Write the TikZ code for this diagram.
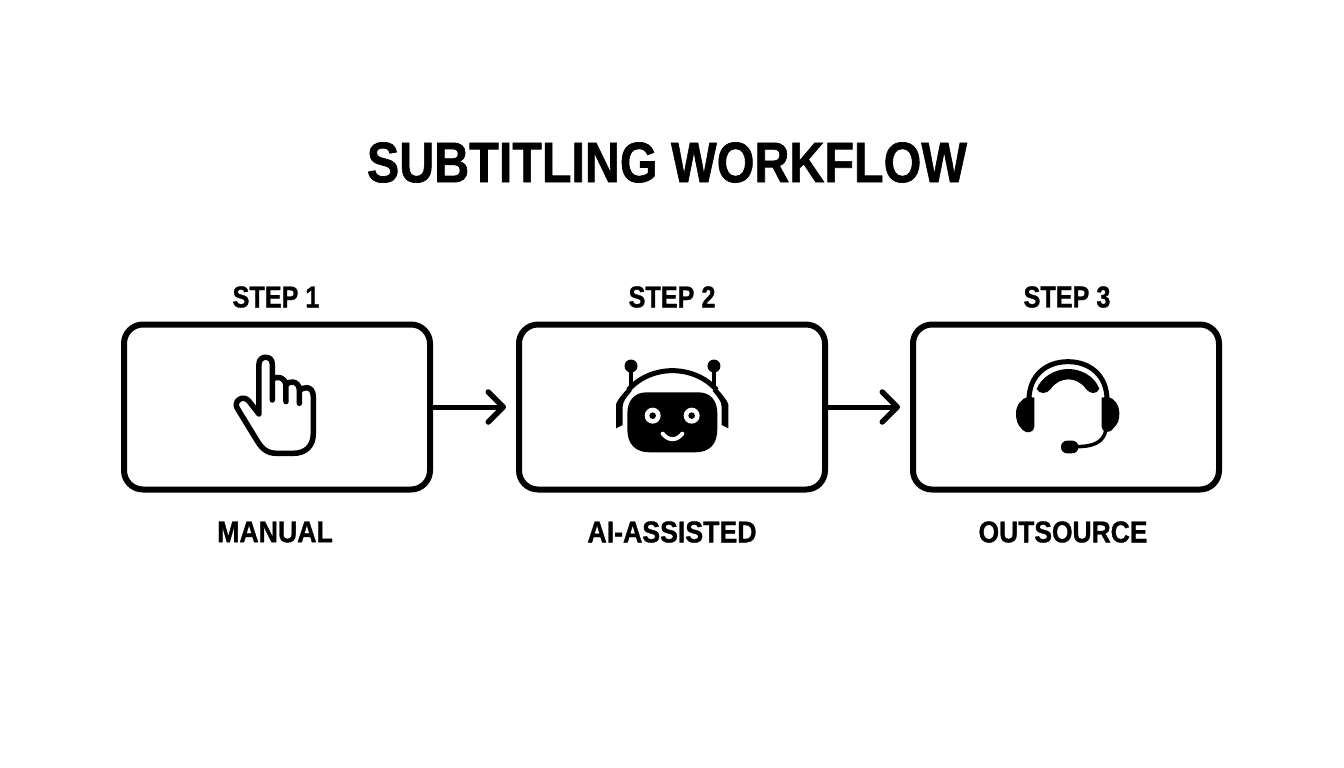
\documentclass[tikz,border=0pt]{standalone}
\usepackage{fontspec}
\newfontfamily\heavy{Liberation Sans Bold}[FakeBold=1.2]
\usetikzlibrary{arrows.meta}
\begin{document}
\begin{tikzpicture}[x=1pt,y=-1pt,
  stepbox/.style={draw=black,line width=6pt,rounded corners=19pt,minimum width=306pt,minimum height=165pt,inner sep=0pt,fill=white},
  titletext/.style={font=\heavy\fontsize{57pt}{60pt}\selectfont,xscale=.85,transform shape,inner sep=0pt,text=black},
  steptext/.style={font=\heavy\fontsize{30pt}{34pt}\selectfont,xscale=.84,transform shape,inner sep=0pt,text=black},
  labeltext/.style={font=\heavy\fontsize{30pt}{34pt}\selectfont,xscale=.89,transform shape,inner sep=0pt,text=black},
  flow/.style={line width=5pt,-{Straight Barb[length=15pt,width=30pt,round,line width=5.5pt]}}]
\useasboundingbox (0,0) rectangle (1344,768);
\fill[white] (0,0) rectangle (1344,768);
\node[titletext] (title) at (667,162.5) {SUBTITLING WORKFLOW};
\node[stepbox] (b1) at (277,407) {};
\node[stepbox] (b2) at (672,407) {};
\node[stepbox] (b3) at (1066,407) {};
\node[steptext] (s1) at (276,297) {STEP 1};
\node[steptext] (s2) at (672,297) {STEP 2};
\node[steptext] (s3) at (1067,297) {STEP 3};
\node[labeltext] (l1) at (275,532) {MANUAL};
\node[labeltext] (l2) at (672,532) {AI-ASSISTED};
\node[labeltext,xscale=.99] (l3) at (1063,532) {OUTSOURCE};
\coordinate (t1) at (506,407);
\coordinate (t2) at (900,407);
\draw[flow] (b1.east) -- (t1);
\draw[flow] (b2.east) -- (t2);
% hand
\begin{scope}[xshift=210pt,yshift=-340pt,x=.3333pt,y=-.3333pt]
\draw[line width=5.5pt,line cap=round,line join=round]
 (147,222) -- (147,72) .. controls (147,45) and (187,45) .. (187,72) -- (187,180)
 (187,118) .. controls (195,108) and (228,108) .. (228,140) -- (228,185)
 (228,135) .. controls (235,120) and (268,122) .. (268,150) -- (268,190)
 (268,155) .. controls (275,138) and (310,135) .. (310,170) -- (310,280)
 .. controls (310,320) and (285,340) .. (250,340) -- (200,340)
 .. controls (170,340) and (155,325) .. (140,300) -- (82,205)
 .. controls (68,185) and (100,160) .. (118,185) -- (147,222);
\end{scope}
% robot
\begin{scope}[xshift=600pt,yshift=-345pt,x=.3333pt,y=-.3333pt]
\fill (82,205) .. controls (82,165) and (105,142) .. (140,142) -- (295,142)
 .. controls (330,142) and (352,165) .. (352,205) -- (352,252)
 .. controls (352,297) and (330,322) .. (285,322) -- (150,322)
 .. controls (105,322) and (82,297) .. (82,252) -- cycle;
\fill[white] (158,212) circle[radius=8pt];
\fill (158,212) circle[radius=3.3pt];
\fill[white] (275,212) circle[radius=8pt];
\fill (275,212) circle[radius=3.3pt];
\draw[white,line width=4pt,line cap=round] (188,266) .. controls (205,288) and (230,288) .. (247,266);
\draw[line width=5pt] (85,135) .. controls (120,95) and (170,77) .. (217,77) .. controls (265,77) and (315,95) .. (350,135);
\fill (48,178) .. controls (52,165) and (65,150) .. (85,128) -- (95,138) .. controls (80,155) and (68,170) .. (68,185)
 -- (68,240) -- (48,250) -- cycle;
\fill (385,178) .. controls (381,165) and (368,150) .. (348,128) -- (338,138) .. controls (353,155) and (365,170) .. (365,185)
 -- (365,240) -- (385,250) -- cycle;
\fill (93,63) circle[radius=6.5pt];
\fill (342,63) circle[radius=6.5pt];
\draw[line width=4.5pt] (93,63) -- (93,128);
\draw[line width=4.5pt] (342,63) -- (342,128);
\end{scope}
% headset
\begin{scope}[xshift=1000pt,yshift=-345pt,x=.3333pt,y=-.3333pt]
\draw[line width=5pt] (87,165) .. controls (87,90) and (140,50) .. (204,50) .. controls (268,50) and (321,90) .. (321,165);
\fill (110,132) .. controls (125,95) and (165,72) .. (205,72) .. controls (245,72) and (285,95) .. (298,132)
 .. controls (290,148) and (270,148) .. (258,132) .. controls (245,113) and (225,103) .. (205,103)
 .. controls (185,103) and (165,113) .. (152,132) .. controls (140,148) and (118,148) .. (110,132) -- cycle;
\fill (103,158) -- (103,245) .. controls (103,262) and (80,268) .. (68,255)
 .. controls (52,240) and (48,225) .. (48,205) .. controls (48,180) and (65,160) .. (85,155) -- cycle;
\fill (305,158) -- (305,245) .. controls (305,262) and (328,268) .. (340,250)
 .. controls (355,235) and (358,225) .. (358,205) .. controls (358,180) and (343,160) .. (323,155) -- cycle;
\draw[line width=3.5pt] (318,255) .. controls (310,290) and (285,305) .. (228,305);
\fill[rounded corners=6pt] (183,287) rectangle (235,325);
\end{scope}
\end{tikzpicture}
\end{document}
